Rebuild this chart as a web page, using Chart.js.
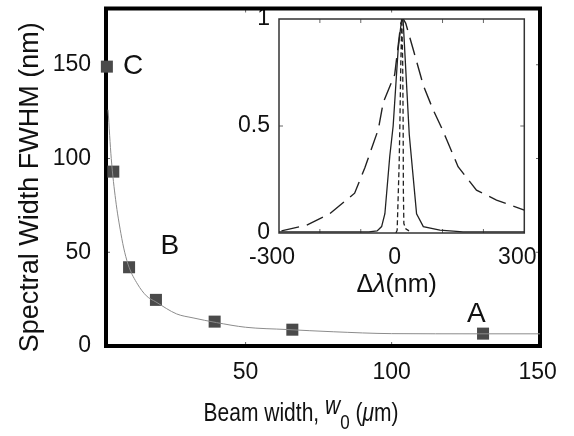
<!DOCTYPE html>
<html>
<head>
<meta charset="utf-8">
<script src="https://cdn.jsdelivr.net/npm/chart.js@4.4.1/dist/chart.umd.min.js"></script>
<style>
  html, body { margin: 0; padding: 0; background: #fff; }
  #wrap { position: relative; width: 574px; height: 436px; }
  #mainChart { position: absolute; left: 0; top: 0; z-index: 2; }
  #insetChart { position: absolute; left: 230px; top: 8px; z-index: 1; }
</style>
</head>
<body>
<div id="wrap">
  <canvas id="insetChart" width="310" height="290"></canvas>
  <canvas id="mainChart" width="574" height="436"></canvas>
</div>
<script>
// FWHM medido frente al ancho del haz w0 (um)
const beamWidth = [2.5, 4.7, 10.1, 19.3, 39.4, 66, 131.3];
const fwhm = [149, 93, 42, 24.6, 13, 8.7, 6.6];

// curva de ajuste (gris fino)
const fitX = [2.9, 4, 5.5, 7.3, 8.6, 10.1, 13, 16, 19.3, 26.4, 32, 40, 50, 64, 80, 100, 130, 151];
const fitY = [126, 100, 78, 60, 50, 42, 33, 26.8, 23.5, 17.1, 15, 12.5, 10, 8.8, 7.6, 6.6, 6.5, 6.5];

const xTicks = [50, 100, 150];
const yTicks = [0, 50, 100, 150];
const tags = ['C', 'B', 'A'];

// espectros normalizados del recuadro, eje en nm
const broadX = [-294, -233, -176, -115, -90, -57, -45, -17, -2, 4, 10, 28, 53, 76, 98, 110, 138, 183, 232, 300];
const broadY = [0.01, 0.036, 0.09, 0.186, 0.305, 0.485, 0.61, 0.74, 0.98, 1.0, 0.98, 0.86, 0.69, 0.58, 0.49, 0.437, 0.31, 0.2, 0.154, 0.107];
const midX = [-300, -80, -60, -49, -41, -29, -20.8, -8.5, 0, 3.7, 18.6, 36.5, 53, 93.5, 150, 300];
const midY = [0.005, 0.005, 0.01, 0.03, 0.09, 0.36, 0.5, 0.86, 1.0, 0.99, 0.46, 0.09, 0.03, 0.013, 0.005, 0.005];
const sharpX = [-14, -11, -8.5, -6, -4.4, -2, 0.5, 2.5, 3.7, 4.2, 5.4, 10, 18];
const sharpY = [0, 0.013, 0.17, 0.33, 0.5, 0.8, 1.0, 0.8, 0.5, 0.2, 0.044, 0.02, 0.01];
const dlTicks = [-300, 0, 300];
const dlMinor = [-200, -100, 100, 200];
const insetYTicks = [0, 0.5, 1];

const FONT = '"Liberation Sans", Arial, Helvetica, sans-serif';
const INK = '#111';
const pts = (xs, ys) => xs.map((x, i) => ({ x, y: ys[i] }));

// sin relleno automático por etiquetas en los extremos
function noPad(s) {
  s.paddingLeft = s.paddingRight = s.paddingTop = s.paddingBottom = 0;
}

// marco + marcas hacia dentro
function framePlugin(width, color, tickLen, xt, yt) {
  return {
    id: 'frame',
    beforeDatasetsDraw(chart) {
      const { ctx, chartArea: a, scales: { x, y } } = chart;
      ctx.save();
      ctx.strokeStyle = '#666';
      ctx.lineWidth = 1;
      ctx.beginPath();
      xt.forEach(v => {
        const px = x.getPixelForValue(v);
        ctx.moveTo(px, a.bottom); ctx.lineTo(px, a.bottom - tickLen);
        ctx.moveTo(px, a.top); ctx.lineTo(px, a.top + tickLen);
      });
      yt.forEach(v => {
        const py = y.getPixelForValue(v);
        ctx.moveTo(a.left, py); ctx.lineTo(a.left + tickLen, py);
        ctx.moveTo(a.right, py); ctx.lineTo(a.right - tickLen, py);
      });
      ctx.stroke();
      ctx.strokeStyle = color;
      ctx.lineWidth = width;
      ctx.strokeRect(a.left, a.top, a.right - a.left, a.bottom - a.top);
      ctx.restore();
    }
  };
}

// texto con tramos (cursiva, subíndice); sy estira en vertical
function drawRuns(ctx, runs, cx, baseline, sy = 1) {
  let total = 0;
  runs.forEach(r => { ctx.font = r.f; r.w = ctx.measureText(r.t).width; total += r.w; });
  let x = cx - total / 2;
  ctx.save();
  ctx.translate(0, baseline);
  ctx.scale(1, sy);
  ctx.textAlign = 'left';
  ctx.textBaseline = 'alphabetic';
  runs.forEach(r => { ctx.font = r.f; ctx.fillText(r.t, x, (r.dy || 0) / sy); x += r.w; });
  ctx.restore();
}

const mainLabels = {
  id: 'mainLabels',
  afterDraw(chart) {
    const { ctx, chartArea: a, scales: { x, y } } = chart;
    ctx.save();
    ctx.fillStyle = INK;

    // letras junto a los puntos
    const tagPos = [[11.5, 149.3], [24.1, 53], [129, 17.1]];
    ctx.font = '28px ' + FONT;
    ctx.textAlign = 'center';
    ctx.textBaseline = 'middle';
    tags.forEach((t, i) => {
      ctx.fillText(t, x.getPixelForValue(tagPos[i][0]), y.getPixelForValue(tagPos[i][1]));
    });

    // título eje x
    const reg = '21px ' + FONT, ita = 'italic 21px ' + FONT, sub = '17px ' + FONT;
    drawRuns(ctx, [
      { t: 'Beam width, ', f: reg },
      { t: 'w', f: ita, dy: -7 },
      { t: '0', f: sub, dy: 8 },
      { t: ' (', f: reg },
      { t: 'μ', f: ita },
      { t: 'm)', f: reg }
    ], (a.left + a.right) / 2 - 22, a.bottom + 75, 1.2);

    // título eje y
    ctx.translate(31, (a.top + a.bottom) / 2 + 10);
    ctx.rotate(-Math.PI / 2);
    ctx.font = '27px ' + FONT;
    ctx.textAlign = 'center';
    ctx.textBaseline = 'middle';
    ctx.fillText('Spectral Width FWHM (nm)', 0, 0);
    ctx.restore();
  }
};

const mainChart = new Chart(document.getElementById('mainChart'), {
  type: 'scatter',
  data: {
    datasets: [{
      data: pts(fitX, fitY),
      showLine: true,
      borderColor: '#8c8c8c',
      borderWidth: 1,
      pointRadius: 0,
      cubicInterpolationMode: 'monotone'
    }, {
      data: pts(beamWidth, fwhm),
      showLine: false,
      pointStyle: 'rect',
      pointRadius: 8.5,
      backgroundColor: '#4a4a4a',
      borderWidth: 0,
      clip: false
    }]
  },
  options: {
    responsive: false,
    animation: false,
    events: [],
    layout: { padding: { top: 6, right: 34, left: 0, bottom: 0 } },
    plugins: { legend: { display: false }, tooltip: { enabled: false } },
    scales: {
      x: {
        type: 'linear', min: 2.2, max: 150.8,
        afterBuildTicks: s => { s.ticks = xTicks.map(v => ({ value: v })); },
        afterFit: s => { s.height = 90; noPad(s); },
        grid: { display: false, drawTicks: false },
        border: { display: false },
        ticks: { color: INK, font: { family: FONT, size: 23 }, padding: 13, maxRotation: 0 }
      },
      y: {
        type: 'linear', min: 0, max: 180,
        afterBuildTicks: s => { s.ticks = yTicks.map(v => ({ value: v })); },
        afterFit: s => { s.width = 106; noPad(s); },
        grid: { display: false, drawTicks: false },
        border: { display: false },
        ticks: { color: INK, font: { family: FONT, size: 23 }, padding: 15 }
      }
    }
  },
  plugins: [framePlugin(4, '#000', 4, [50, 100], [50, 100, 150]), mainLabels]
});

const insetLabels = {
  id: 'insetLabels',
  afterDraw(chart) {
    const { ctx, chartArea: a } = chart;
    ctx.save();
    ctx.fillStyle = INK;
    drawRuns(ctx, [
      { t: 'Δ', f: '25px ' + FONT },
      { t: 'λ', f: 'italic 25px ' + FONT },
      { t: '(nm)', f: '25px ' + FONT }
    ], (a.left + a.right) / 2 - 5, a.bottom + 59);
    ctx.restore();
  }
};

const insetChart = new Chart(document.getElementById('insetChart'), {
  type: 'scatter',
  data: {
    datasets: [{
      data: pts(broadX, broadY),
      showLine: true, borderColor: '#222', borderWidth: 1.4,
      borderDash: [18, 8], pointRadius: 0, tension: 0
    }, {
      data: pts(midX, midY),
      showLine: true, borderColor: '#222', borderWidth: 1.3,
      pointRadius: 0, tension: 0
    }, {
      data: pts(sharpX, sharpY),
      showLine: true, borderColor: '#222', borderWidth: 1.3,
      borderDash: [5, 3], pointRadius: 0, tension: 0
    }]
  },
  options: {
    responsive: false,
    animation: false,
    events: [],
    layout: { padding: { top: 11, right: 15.7, left: 0, bottom: 0 } },
    plugins: { legend: { display: false }, tooltip: { enabled: false } },
    scales: {
      x: {
        type: 'linear', min: -300, max: 300,
        afterBuildTicks: s => { s.ticks = dlTicks.map(v => ({ value: v })); },
        afterFit: s => { s.height = 65; noPad(s); },
        grid: { display: false, drawTicks: false },
        border: { display: false },
        ticks: { color: INK, font: { family: FONT, size: 23 }, padding: 11, labelOffset: -7, maxRotation: 0 }
      },
      y: {
        type: 'linear', min: 0, max: 1,
        afterBuildTicks: s => { s.ticks = insetYTicks.map(v => ({ value: v })); },
        afterFit: s => { s.width = 49; noPad(s); },
        grid: { display: false, drawTicks: false },
        border: { display: false },
        ticks: { color: INK, font: { family: FONT, size: 23 }, padding: 9, callback: v => String(v) }
      }
    }
  },
  plugins: [framePlugin(1.5, '#333', 4, dlMinor, [0.5]), insetLabels]
});
</script>
</body>
</html>
